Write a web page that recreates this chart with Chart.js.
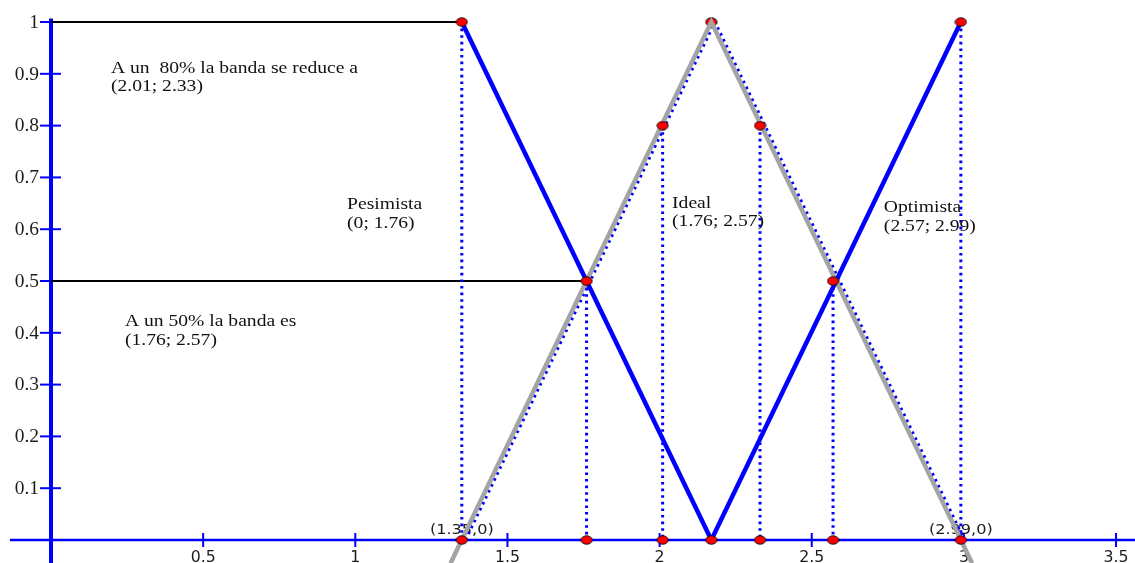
<!DOCTYPE html>
<html>
<head>
<meta charset="utf-8">
<script src="https://cdn.jsdelivr.net/npm/chart.js@4"></script>
<style>
    html, body { margin: 0; padding: 0; background: #fff; }
    #grafico { display: block; }
</style>
</head>
<body>
<canvas id="grafico" width="1135" height="563"></canvas>
<script>
// escenarios (x = valor, y = grado de pertenencia)
const pesimistaX = [1.35, 2.17]
const pesimistaY = [1, 0]
const optimistaX = [2.17, 2.99]
const optimistaY = [0, 1]
const idealX = [1.313, 2.17, 3.027]
const idealY = [-0.045, 1, -0.045]
// trazo punteado que acompaña al ideal
const idealPuntosX = [1.362, 2.182, 3.002]
const idealPuntosY = [0, 1, 0]

// cortes verticales punteados
const cortesX = [1.35, 1.76, 2.01, 2.33, 2.57, 2.99]
const cortesY = [1, 0.5, 0.8, 0.8, 0.5, 1]

// niveles (lineas negras desde el eje)
const nivelesX = [1.35, 1.76]
const nivelesY = [1, 0.5]

// puntos rojos
const puntosX = [1.35, 2.99, 2.01, 2.33, 1.76, 2.57, 1.35, 1.76, 2.01, 2.17, 2.33, 2.57, 2.99]
const puntosY = [1, 1, 0.8, 0.8, 0.5, 0.5, 0, 0, 0, 0, 0, 0, 0]
const verticeX = [2.17]
const verticeY = [1]

const ticksX = [0.5, 1, 1.5, 2, 2.5, 3, 3.5]
const ticksY = [0.1, 0.2, 0.3, 0.4, 0.5, 0.6, 0.7, 0.8, 0.9, 1]

const etiquetasEje = ['(1.35,0)', '(2.99,0)']
const etiquetasEjeX = [1.35, 2.99]

const notas = [
    { lineas: ['A un  80% la banda se reduce a', '(2.01; 2.33)'], x: 0.197, y: 0.902 },
    { lineas: ['Pesimista', '(0; 1.76)'], x: 0.973, y: 0.639 },
    { lineas: ['Ideal', '(1.76; 2.57)'], x: 2.041, y: 0.641 },
    { lineas: ['Optimista', '(2.57; 2.99)'], x: 2.737, y: 0.633 },
    { lineas: ['A un 50% la banda es', '(1.76; 2.57)'], x: 0.243, y: 0.413 }
]

const AZUL = '#0000ff'
const GRIS = '#a4a4a4'
const SERIF = 'Liberation Serif'

function serie(xs, ys) {
    return xs.map((v, i) => ({ x: v, y: ys[i] }))
}

// punto rojo algo achatado, como en el original
function puntoRojo() {
    const c = document.createElement('canvas')
    c.width = 13
    c.height = 10
    const g = c.getContext('2d')
    g.beginPath()
    g.ellipse(6.5, 5, 5.6, 4.2, 0, 0, Math.PI * 2)
    g.fillStyle = '#ff0000'
    g.fill()
    g.lineWidth = 1
    g.strokeStyle = '#111'
    g.stroke()
    return c
}
const marca = puntoRojo()

function texto(ctx, t, px, py, font, sx, align) {
    ctx.save()
    ctx.font = font
    ctx.translate(px, py)
    ctx.scale(sx, 1)
    ctx.textAlign = align || 'left'
    ctx.fillText(t, 0, 0)
    ctx.restore()
}

const ejes = {
    id: 'ejes',
    beforeDatasetsDraw(chart) {
        const { ctx, scales: { x, y } } = chart
        const x0 = x.getPixelForValue(0)
        const y0 = y.getPixelForValue(0)
        ctx.save()
        ctx.strokeStyle = AZUL
        ctx.lineWidth = 2.5
        ctx.beginPath()
        ctx.moveTo(x.getPixelForValue(-0.135), y0)
        ctx.lineTo(chart.width, y0)
        ctx.stroke()
        ctx.lineWidth = 4
        ctx.beginPath()
        ctx.moveTo(x0, y.getPixelForValue(1.007))
        ctx.lineTo(x0, chart.height)
        ctx.stroke()

        ctx.lineWidth = 2
        ctx.fillStyle = '#1c1c1c'
        ticksX.forEach(t => {
            const px = x.getPixelForValue(t)
            ctx.beginPath()
            ctx.moveTo(px, y0 - 7)
            ctx.lineTo(px, y0 + 7)
            ctx.stroke()
            texto(ctx, String(t), px, 562, '15px "DejaVu Sans"', 1.05, 'center')
        })
        ctx.textBaseline = 'middle'
        ticksY.forEach(t => {
            const py = y.getPixelForValue(t)
            ctx.beginPath()
            ctx.moveTo(x0 - 11, py)
            ctx.lineTo(x0 + 10, py)
            ctx.stroke()
            texto(ctx, String(t), x0 - 12, py + 1, '18px "' + SERIF + '"', 1.08, 'right')
        })
        ctx.textBaseline = 'alphabetic'
        etiquetasEje.forEach((t, i) => {
            texto(ctx, t, x.getPixelForValue(etiquetasEjeX[i]), 534, '14px "DejaVu Sans"', 1.15, 'center')
        })
        ctx.restore()
    },
    afterDatasetsDraw(chart) {
        const { ctx, scales: { x, y } } = chart
        ctx.save()
        ctx.fillStyle = '#111'
        notas.forEach(n => {
            const px = x.getPixelForValue(n.x)
            const py = y.getPixelForValue(n.y)
            n.lineas.forEach((l, i) => {
                texto(ctx, l, px, py + i * 18.5, '17.5px "' + SERIF + '"', 1.12)
            })
        })
        ctx.restore()
    }
}

const linea = (data, color, ancho, extra) => Object.assign({
    data: data,
    showLine: true,
    borderColor: color,
    borderWidth: ancho,
    pointRadius: 0,
    fill: false
}, extra || {})

const punteado = { borderDash: [2.6, 4], borderCapStyle: 'butt' }

// el primero de la lista queda encima
const datasets = [
    { data: serie(puntosX, puntosY), pointStyle: marca, pointRadius: 6, showLine: false },
    linea(serie(pesimistaX, pesimistaY), AZUL, 4.5),
    linea(serie(optimistaX, optimistaY), AZUL, 4.5),
    linea(serie(idealX, idealY), GRIS, 4.5),
    { data: serie(verticeX, verticeY), pointStyle: marca, pointRadius: 6, showLine: false },
    linea(serie(idealPuntosX, idealPuntosY), AZUL, 3, punteado)
]
cortesX.forEach((cx, i) => {
    datasets.push(linea([{ x: cx, y: cortesY[i] }, { x: cx, y: 0 }], AZUL, 3, punteado))
})
nivelesX.forEach((nx, i) => {
    datasets.push(linea([{ x: 0, y: nivelesY[i] }, { x: nx, y: nivelesY[i] }], '#000', 2))
})

new Chart(document.getElementById('grafico'), {
    type: 'scatter',
    data: { datasets: datasets },
    options: {
        responsive: false,
        animation: false,
        devicePixelRatio: 1,
        layout: { padding: 0, autoPadding: false },
        plugins: {
            legend: { display: false },
            tooltip: { enabled: false }
        },
        scales: {
            x: { type: 'linear', display: false, min: -0.1676, max: 3.5623 },
            y: { type: 'linear', display: false, min: -0.0444, max: 1.0425 }
        }
    },
    plugins: [ejes]
});
</script>
</body>
</html>
